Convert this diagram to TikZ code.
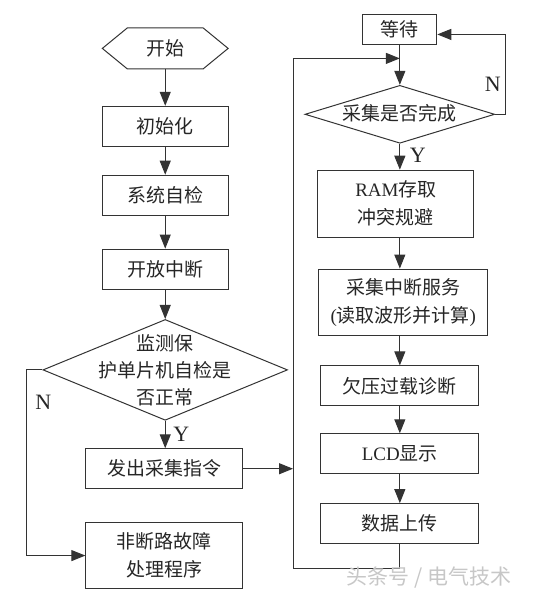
\documentclass[tikz,border=0pt]{standalone}
\usepackage{fontspec}
\setmainfont{Liberation Serif}
\newfontfamily\cjk{Noto Sans CJK SC}
\newfontfamily\lat{Liberation Serif}
\usetikzlibrary{shapes.geometric,arrows.meta}
\begin{document}
\begin{tikzpicture}[x=1pt,y=-1pt,line width=1pt,
  every path/.style={draw=black!80},
  box/.style={draw=black!80, rectangle, inner sep=0pt, text=black!85,
    font=\cjk\fontsize{19}{28}\selectfont, align=center},
  dia/.style={draw=black!80, diamond, inner sep=0pt},
  txt/.style={text=black!85, font=\cjk\fontsize{19}{27}\selectfont, align=center},
  arr/.style={-{Triangle[length=14pt,width=11pt]}},
  yn/.style={text=black!85, font=\lat\fontsize{22}{22}\selectfont}]
\useasboundingbox (0,0) rectangle (533,600);
\fill[white] (0,0) rectangle (533,600);

% left column
\node[txt, minimum width=125, minimum height=40] (start) at (165,48) {开始};
\draw ([xshift=25pt]start.north west) -- ([xshift=-25pt]start.north east) -- (start.east)
      -- ([xshift=-25pt]start.south east) -- ([xshift=25pt]start.south west) -- (start.west) -- cycle;
\node[box, minimum width=126, minimum height=40] (init) at (165,126) {初始化};
\node[box, minimum width=126, minimum height=40] (self) at (165,195) {系统自检};
\node[box, minimum width=126, minimum height=40] (intr) at (165,269) {开放中断};
\node[dia, minimum width=245, minimum height=101] (d1) at (165,370) {};
\node[txt] (d1t) at (165,370) {监测保\\护单片机自检是\\否正常};
\node[box, minimum width=157, minimum height=40] (cmd) at (164,469) {发出采集指令};
\node[box, minimum width=157, minimum height=66] (fault) at (164,556) {非断路故障\\处理程序};

% right column
\node[box, minimum width=74, minimum height=30] (wait) at (400,29) {等待};
\node[dia, minimum width=190, minimum height=58] (d2) at (400,114) {};
\node[txt] (d2t) at (400,113) {采集是否完成};
\node[box, minimum width=156, minimum height=67] (ram) at (396,203.5) {{\lat RAM}存取\\冲突规避};
\node[box, minimum width=169, minimum height=67] (svc) at (403.5,302.5) {采集中断服务\\{\lat(}读取波形并计算{\lat)}};
\node[box, minimum width=158, minimum height=40] (diag) at (400,386) {欠压过载诊断};
\node[box, minimum width=158, minimum height=40] (lcd) at (400,454) {{\lat LCD}显示};
\node[box, minimum width=158, minimum height=40] (up) at (400,524) {数据上传};

% helper coordinates
\coordinate (nl) at (26,370);
\coordinate (lb) at (293,569);
\coordinate (lt) at (293,58);
\coordinate (nr) at (506,34);

% connectors left
\draw[arr] (start.south) -- (init.north);
\draw[arr] (init.south) -- (self.north);
\draw[arr] (self.south) -- (intr.north);
\draw[arr] (intr.south) -- (d1.north);
\draw[arr] (d1.south) -- (d1.south |- cmd.north);
\draw[arr] (d1.west) -- (nl) |- (fault.west);
\draw[arr] (cmd.east) -- (cmd.east -| lt);

% connectors right
\draw[arr] (up.south) |- (lb) -- (lt) -- (wait.south |- lt);
\draw[arr] (wait.south) -- (d2.north);
\draw[arr] (d2.east) -| (nr) -- (wait.east |- nr);
\draw[arr] (d2.south) -- (d2.south |- ram.north);
\draw[arr] (d2.south |- ram.south) -- (d2.south |- svc.north);
\draw[arr] (d2.south |- svc.south) -- (diag.north);
\draw[arr] (diag.south) -- (lcd.north);
\draw[arr] (lcd.south) -- (up.north);

% labels
\node[yn] (y1) at (181,435) {Y};
\node[yn] (n1) at (43,402) {N};
\node[yn] (y2) at (418,155) {Y};
\node[yn] (n2) at (493,84) {N};

% watermark
\node[text=black!22, font=\cjk\fontsize{21}{21}\selectfont] (wm) at (429,578) {头条号 / 电气技术};
\end{tikzpicture}
\end{document}
